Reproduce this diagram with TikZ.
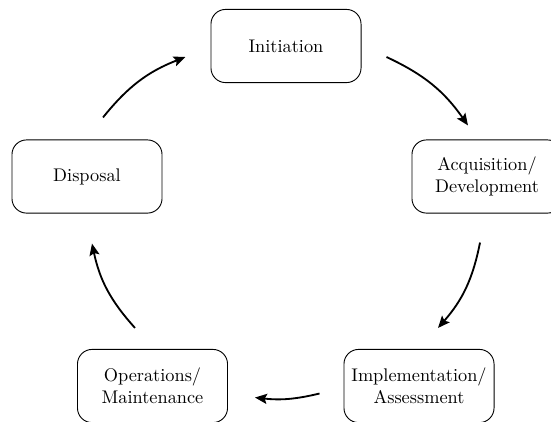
\documentclass[tikz,border=0pt]{standalone}
\usetikzlibrary{arrows.meta,calc}
\begin{document}
\begin{tikzpicture}[x=0.5464pt,y=0.5464pt,
  phase/.style={draw, line width=0.5pt, rounded corners=8pt,
    minimum width=82pt, minimum height=40pt, align=center},
  flow/.style={-{Stealth[length=6.5pt,width=5.5pt,inset=1.2pt]}, line width=1pt}]
\clip (0,0) rectangle (551,-421);

% the five phases of the life cycle
\node[phase] (init) at (286,-46)    {Initiation};
\node[phase] (acq)  at (487,-176.5) {Acquisition/\\Development};
\node[phase] (impl) at (419,-386)   {Implementation/\\Assessment};
\node[phase] (ops)  at (152.5,-386) {Operations/\\Maintenance};
\node[phase] (disp) at (87,-176.5)  {Disposal};

% curved arrows running clockwise round the cycle
\draw[flow] ($(init.east)+(25,-11)$)  to[bend left=15] ($(acq.north)+(-19,14)$);
\draw[flow] ($(acq.south)+(-7,-29)$)  to[bend left=15] ($(impl.north)+(19,21)$);
\draw[flow] ($(impl.west)+(-24,-7.5)$) to[bend left=10] ($(ops.east)+(27,-11.5)$);
\draw[flow] ($(ops.north)+(-17.5,21)$) to[bend left=15] ($(disp.south)+(5,-30)$);
\draw[flow] ($(disp.north)+(16,22)$)  to[bend left=15] ($(init.west)+(-25,-11)$);
\end{tikzpicture}
\end{document}
